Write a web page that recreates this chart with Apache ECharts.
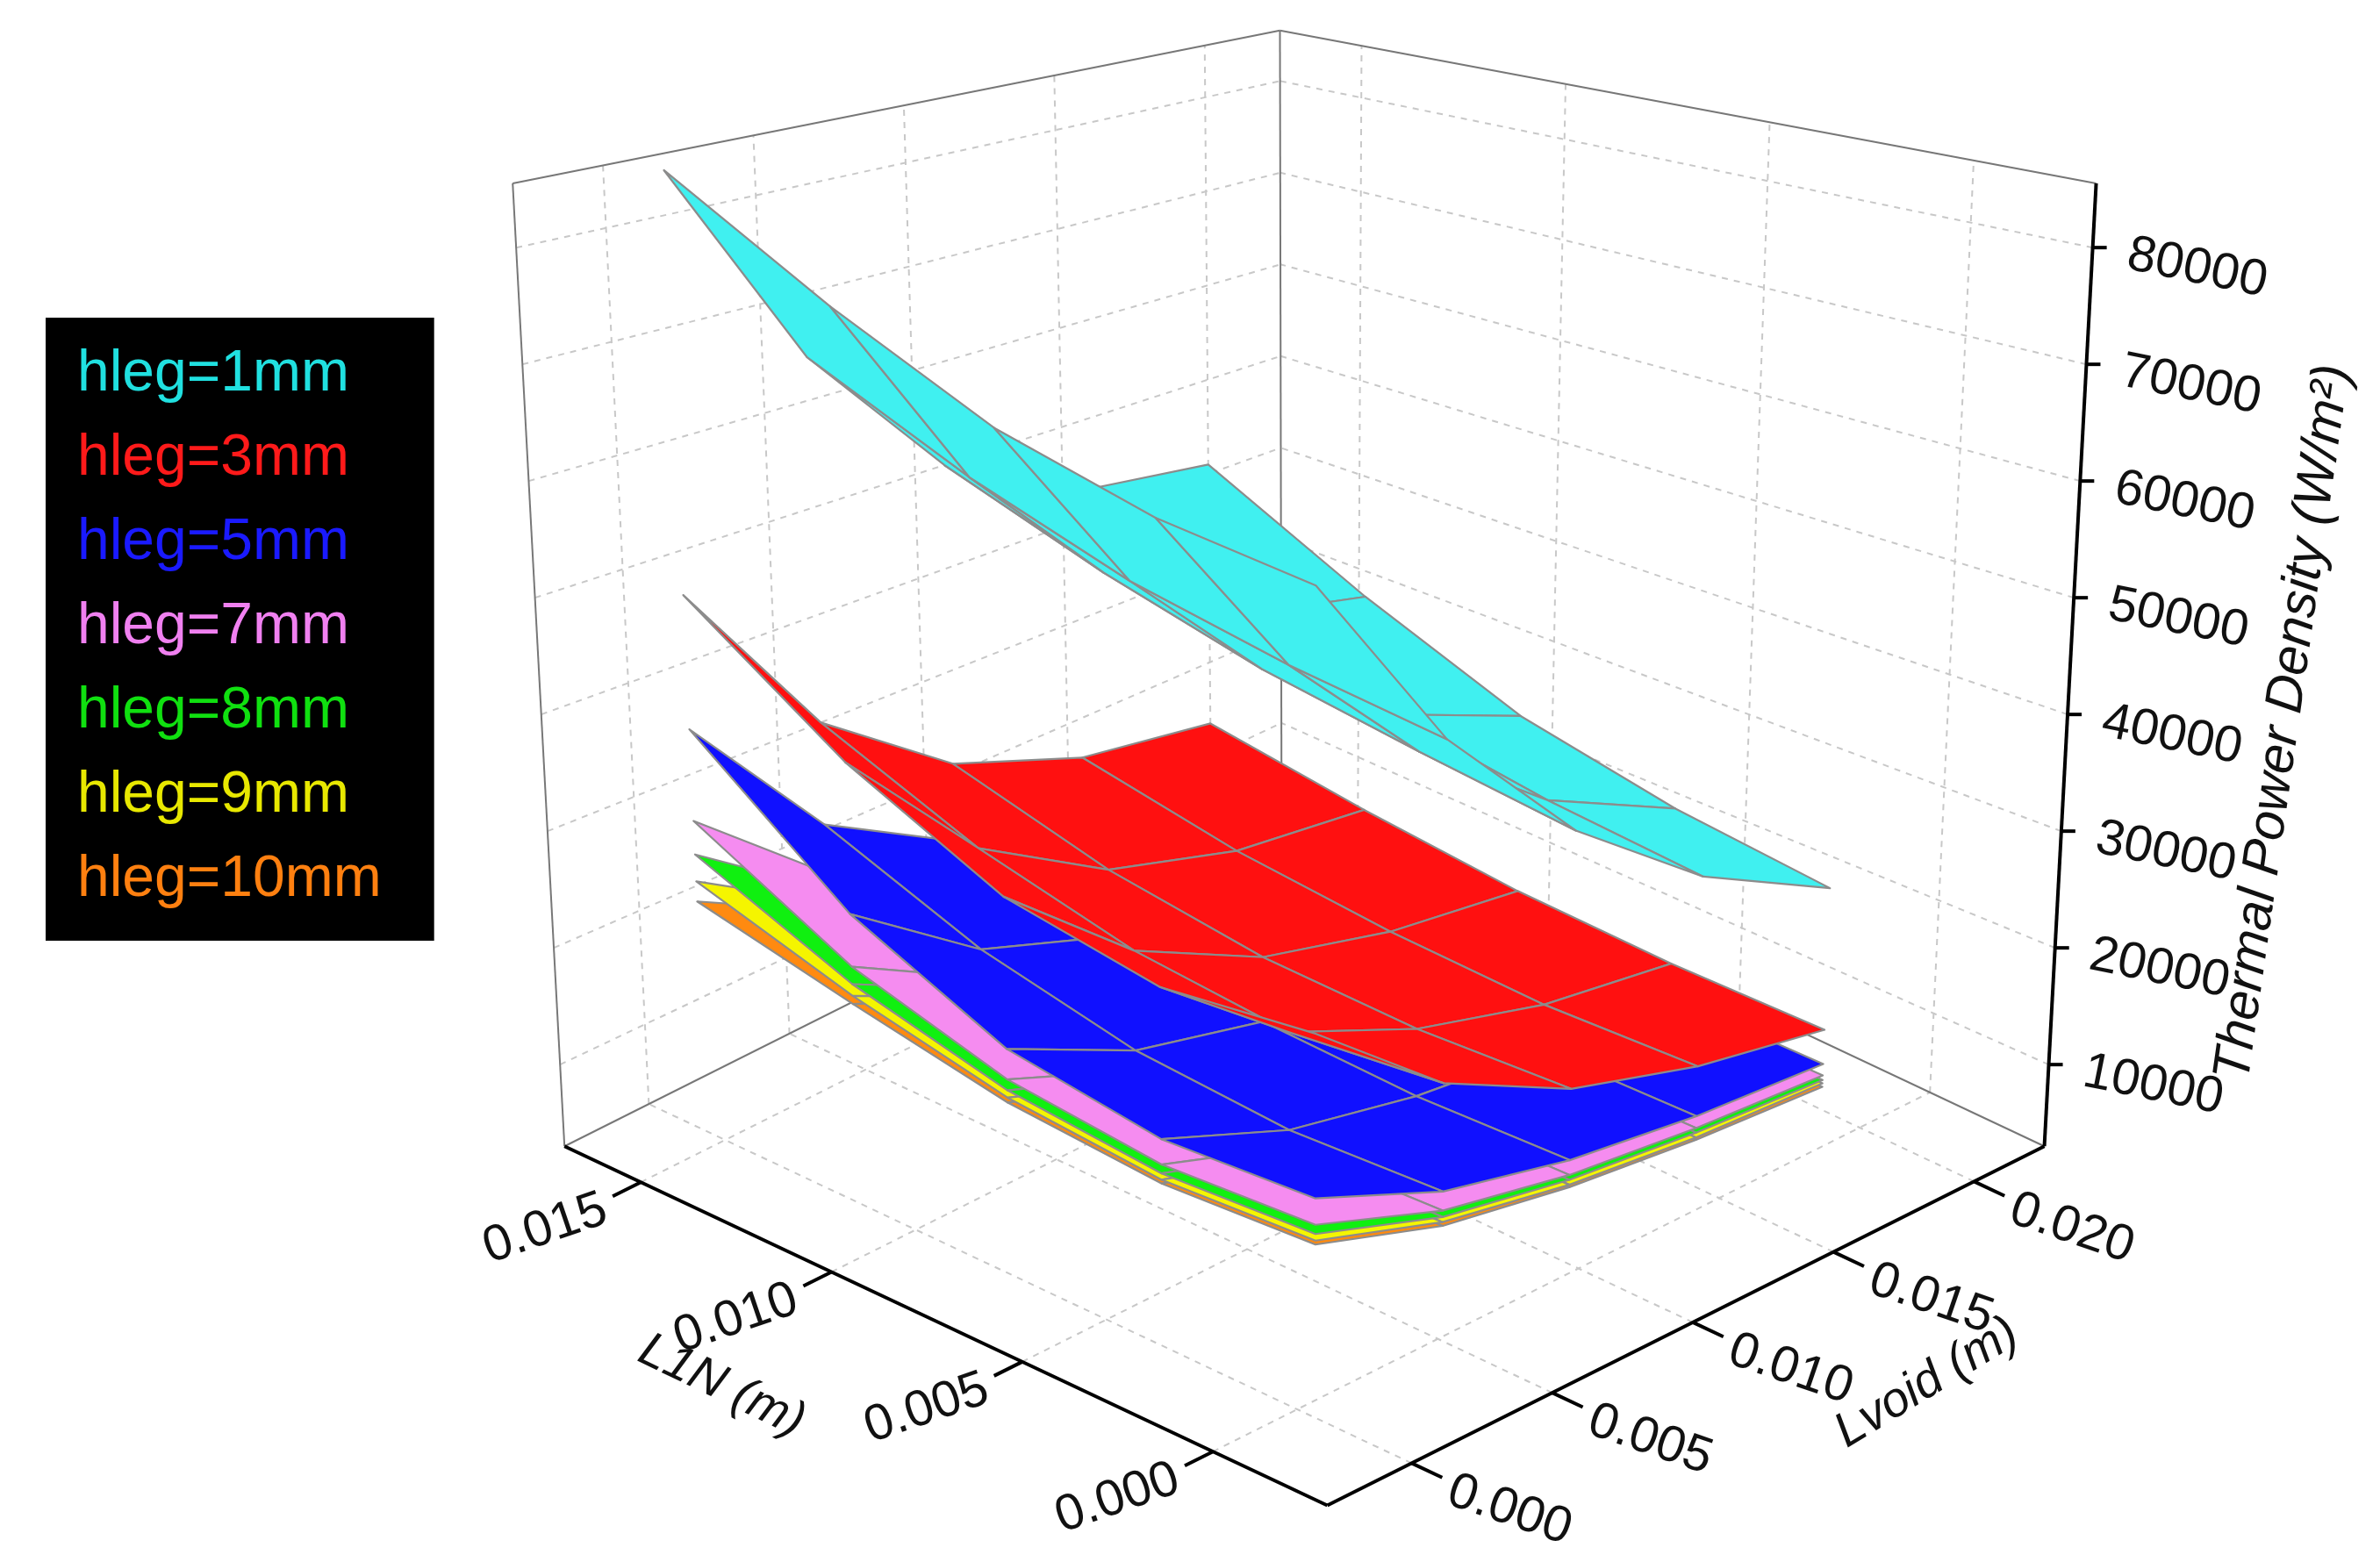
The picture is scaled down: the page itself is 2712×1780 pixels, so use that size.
<!DOCTYPE html>
<html><head><meta charset="utf-8">
<script src="https://cdn.jsdelivr.net/npm/echarts@6/dist/echarts.min.js"></script>
<style>html,body{margin:0;padding:0;background:#fff}#c{width:2712px;height:1780px}</style>
</head><body><div id="c"></div>
<script>
// ---- data ----
const L1N = [0.001, 0.005, 0.009, 0.013, 0.017];          // m (rows)
const LVOID = [0.002, 0.0065, 0.011, 0.0155, 0.020];      // m (cols)
const L1N_TICKS = [0.000, 0.005, 0.010, 0.015];
const LVOID_TICKS = [0.000, 0.005, 0.010, 0.015, 0.020];
const Z_TICKS = [10000, 20000, 30000, 40000, 50000, 60000, 70000, 80000];
const SERIES_NAMES = ['hleg=1mm','hleg=3mm','hleg=5mm','hleg=7mm','hleg=8mm','hleg=9mm','hleg=10mm'];
const h1 = [[62000,47000,36000,28000,22400],[64000,49000,38000,29500,24000],[68000,52000,40500,32000,27000],[75000,57000,44500,36000,33000],[84000,64000,50000,43000,41000]];
const h3 = [[28000,20000,15000,12000,10000],[27000,19000,14500,11500,9800],[29500,20500,15000,12000,10200],[36000,24000,17000,13300,11500],[46000,30000,21000,16000,13500]];
const h5 = [[15500,11500,9200,7800,7000],[15000,11000,8800,7500,6800],[17000,12000,9300,7800,7100],[23000,15000,10800,8800,7900],[34000,20500,13500,10500,9000]];
const h7 = [[13500,10000,8000,6800,6000],[13000,9600,7700,6500,5800],[14500,10300,8000,6700,6000],[18500,12500,9000,7400,6600],[25800,16000,11000,8600,7500]];
const h8 = [[12800,9500,7600,6400,5600],[12300,9100,7300,6200,5500],[13600,9700,7600,6400,5700],[17000,11500,8500,7000,6200],[22800,14500,10000,8000,7000]];
const h9 = [[12300,9100,7200,6000,5300],[11800,8700,6900,5800,5200],[13000,9200,7200,6000,5400],[16000,10800,8000,6600,5900],[20400,13300,9300,7500,6500]];
const h10 = [[12000,8800,7000,5800,5000],[11500,8400,6700,5600,5000],[12600,8900,7000,5800,5100],[15300,10400,7700,6300,5600],[18600,12500,8800,7100,6000]];
const GRIDS = [h1,h3,h5,h7,h8,h9,h10];
const FILLS = ['#40f0f0','#ff1010','#1010ff','#f58cf0','#10f010','#f5f500','#ff8a10'];
const TEXTC = ['#20e0e0','#ff1a1a','#1a1aff','#f080f0','#10e010','#e8e800','#ff8010'];

// ---- 3D box projection (reference frame 1560x1022) ----
const AMIN=-0.003, AMAX=0.017, BMIN=-0.003, BMAX=0.0225, ZMIN=3000, ZMAX=85500;
function proj(a,b,z){
  const af=(a-AMIN)/(AMAX-AMIN), bf=(b-BMIN)/(BMAX-BMIN);
  const bx=870-500*af+470*bf, by=985-235*af-235*bf;
  const d=(af+bf)/2, H=765-270*d, zf=(z-ZMIN)/(ZMAX-ZMIN);
  return [bx+(bx-855)*0.07*zf, by-zf*H];
}
const FONT='"Liberation Sans", Arial, sans-serif';

const cells=[];
for(let i=0;i<L1N.length-1;i++)for(let j=0;j<LVOID.length-1;j++)cells.push([i,j]);
cells.sort((p,q)=>(q[0]+q[1])-(p[0]+p[1]));

function surfRender(k){
  return function(params,api){
    const i=api.value(0), j=api.value(1), g=GRIDS[k];
    const pts=[[i,j],[i+1,j],[i+1,j+1],[i,j+1]].map(([p,q])=>api.coord(proj(L1N[p],LVOID[q],g[p][q])));
    return {type:'polygon',shape:{points:pts},style:{fill:FILLS[k],stroke:'#8c8c8c',lineWidth:2.2,lineJoin:'round'}};
  };
}

function boxRender(params,api){
  const ch=[];
  const P=(a,b,z)=>api.coord(proj(a,b,z));
  const line=(p,q,style)=>ch.push({type:'line',shape:{x1:p[0],y1:p[1],x2:q[0],y2:q[1]},style:style});
  const dash={stroke:'#c8c8c8',lineWidth:2,lineDash:[7,7]};
  const thin={stroke:'#777',lineWidth:2};
  const ax={stroke:'#000',lineWidth:4};
  L1N_TICKS.forEach(a=>line(P(a,BMIN,ZMIN),P(a,BMAX,ZMIN),dash));
  LVOID_TICKS.forEach(b=>line(P(AMIN,b,ZMIN),P(AMAX,b,ZMIN),dash));
  LVOID_TICKS.forEach(b=>line(P(AMAX,b,ZMIN),P(AMAX,b,ZMAX),dash));
  Z_TICKS.forEach(z=>line(P(AMAX,BMIN,z),P(AMAX,BMAX,z),dash));
  L1N_TICKS.forEach(a=>line(P(a,BMAX,ZMIN),P(a,BMAX,ZMAX),dash));
  Z_TICKS.forEach(z=>line(P(AMIN,BMAX,z),P(AMAX,BMAX,z),dash));
  line(P(AMAX,BMIN,ZMIN),P(AMAX,BMIN,ZMAX),thin);
  line(P(AMAX,BMAX,ZMIN),P(AMAX,BMAX,ZMAX),thin);
  line(P(AMAX,BMIN,ZMAX),P(AMAX,BMAX,ZMAX),thin);
  line(P(AMAX,BMAX,ZMAX),P(AMIN,BMAX,ZMAX),thin);
  line(P(AMAX,BMIN,ZMIN),P(AMAX,BMAX,ZMIN),thin);
  line(P(AMAX,BMAX,ZMIN),P(AMIN,BMAX,ZMIN),thin);
  line(P(AMIN,BMIN,ZMIN),P(AMAX,BMIN,ZMIN),ax);
  line(P(AMIN,BMIN,ZMIN),P(AMIN,BMAX,ZMIN),ax);
  line(P(AMIN,BMAX,ZMIN),P(AMIN,BMAX,ZMAX),ax);
  const txt=(p,s,rot,align,size,italic)=>ch.push({type:'text',x:p[0],y:p[1],rotation:rot,
    style:{text:s,fill:'#111',fontSize:size||58,fontFamily:FONT,fontStyle:italic?'italic':'normal',align:align||'center',verticalAlign:'middle'}});
  L1N_TICKS.forEach(a=>{
    const e=P(a,BMIN-0.0010,ZMIN);
    line(P(a,BMIN,ZMIN),e,ax);
    txt([e[0]-8,e[1]+14],a.toFixed(3),0.33,'right');
  });
  LVOID_TICKS.forEach(b=>{
    const e=P(AMIN-0.0008,b,ZMIN);
    line(P(AMIN,b,ZMIN),e,ax);
    txt([e[0]+8,e[1]+14],b.toFixed(3),-0.33,'left');
  });
  Z_TICKS.forEach(z=>{
    const p=P(AMIN,BMAX,z);
    line(p,[p[0]+16,p[1]],ax);
    txt([p[0]+40,p[1]+8],String(z),-0.2,'left');
  });
  txt(api.coord([473,907]),'L1N (m)',-0.45,'center',56,true);
  txt(api.coord([1263,905]),'Lvoid (m)',0.55,'center',56,true);
  txt(api.coord([1497,473]),'Thermal Power Density (W/m²)',1.43,'center',60,true);
  return {type:'group',children:ch};
}

const series=[{type:'custom',name:'box',data:[[0,0]],renderItem:boxRender,silent:true,z:1,clip:false}];
for(let k=GRIDS.length-1;k>=0;k--){
  series.push({type:'custom',name:SERIES_NAMES[k],data:cells,renderItem:surfRender(k),
    itemStyle:{color:FILLS[k]},z:2,clip:false});
}

const chart=echarts.init(document.getElementById('c'));
chart.setOption({
  animation:false,
  backgroundColor:'#fff',
  grid:{left:0,right:0,top:0,bottom:0},
  xAxis:{type:'value',min:0,max:1560,show:false},
  yAxis:{type:'value',min:0,max:1022,inverse:true,show:false},
  legend:{
    orient:'vertical',left:52,top:362,backgroundColor:'#000',
    padding:[30,60,34,30],itemGap:26,itemWidth:1,itemHeight:1,icon:'none',selectedMode:false,
    textStyle:{fontSize:66,fontFamily:FONT,lineHeight:70,padding:0},
    data:SERIES_NAMES.map((n,k)=>({name:n,icon:'none',textStyle:{color:TEXTC[k]}}))
  },
  series:series
});
</script></body></html>
